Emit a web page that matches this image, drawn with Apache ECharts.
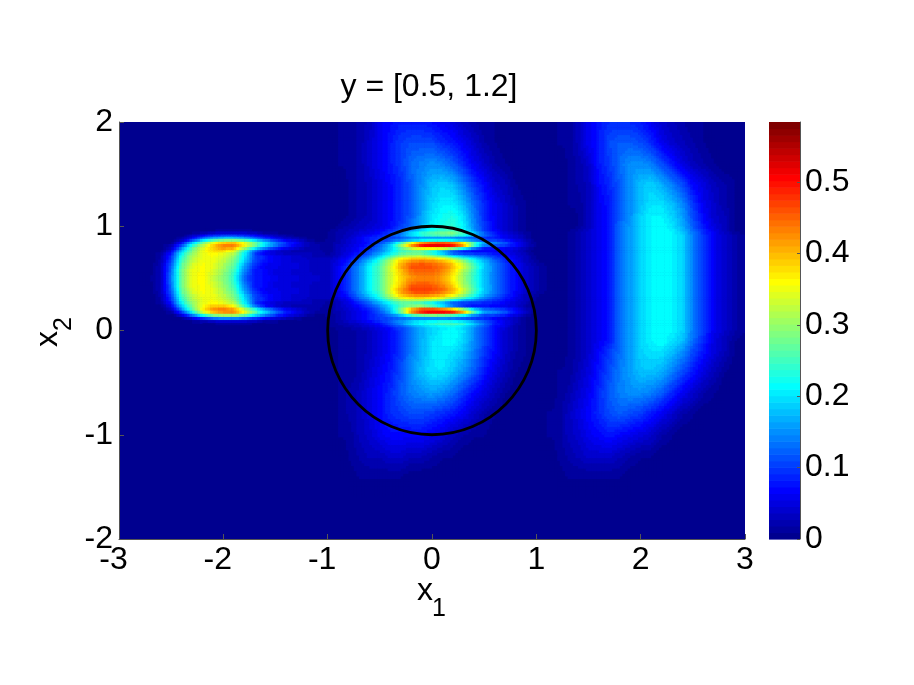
<!DOCTYPE html>
<html><head><meta charset="utf-8">
<style>html,body{margin:0;padding:0;background:#fff}#c{width:914px;height:685px}</style>
<script src="https://cdn.jsdelivr.net/npm/echarts@6/dist/echarts.min.js"></script>
</head><body><div id="c"></div>
<script>
// x2 positions of the rows below, top to bottom
const yNodes=[2,1.8,1.6,1.4,1.2,1.1,1,.95,.92,.88,.85,.83,.8,.77,.75,.72,.68,.62,.56,.5,.44,.38,.32,.28,.25,.22,.19,.16,.13,.1,.07,.03,0,-.1,-.2,-.4,-.6,-.8,-1,-1.2,-1.4,-1.6,-1.8,-2];
// x1 positions of the columns: -3 to 3 by 0.1
const xNodes=[-3,-2.9,-2.8,-2.7,-2.6,-2.5,-2.4,-2.3,-2.2,-2.1,-2,-1.9,-1.8,-1.7,-1.6,-1.5,-1.4,-1.3,-1.2,-1.1,-1,-.9,-.8,-.7,-.6,-.5,-.4,-.3,-.2,-.1,0,.1,.2,.3,.4,.5,.6,.7,.8,.9,1,1.1,1.2,1.3,1.4,1.5,1.6,1.7,1.8,1.9,2,2.1,2.2,2.3,2.4,2.5,2.6,2.7,2.8,2.9,3];
// values, in hundredths
const rows=[
[0,0,0,0,0,0,0,0,0,0, 0,0,0,0,0,0,0,0,0,0, 0,1,1,2,3,6,7,8,8,8, 7,6,5,3,2,1,1,0,0,0, 0,0,1,1,3,6,8,9,9,9, 8,6,4,3,2,1,1,0,0,0,0],
[0,0,0,0,0,0,0,0,0,0, 0,0,0,0,0,0,0,0,0,0, 0,1,1,2,4,6,8,10,11,11, 11,9,8,6,4,2,1,0,0,0, 0,0,1,1,3,6,8,11,12,12, 11,9,6,4,3,2,1,0,0,0,0],
[0,0,0,0,0,0,0,0,0,0, 0,0,0,0,0,0,0,0,0,0, 0,1,1,2,4,6,8,10,13,14, 15,14,12,9,6,4,2,1,0,0, 0,0,0,1,2,4,8,10,13,15, 15,14,11,8,5,3,2,1,0,0,0],
[0,0,0,0,0,0,0,0,0,0, 0,0,0,0,0,0,0,0,0,0, 0,0,1,2,3,5,7,9,12,15, 18,19,18,14,10,7,4,3,1,0, 0,0,0,1,2,3,7,9,12,15, 18,19,17,14,11,7,5,3,2,1,0],
[0,0,0,0,0,0,0,0,0,0, 0,0,0,0,0,0,0,0,0,0, 0,0,1,2,3,5,7,9,12,16, 19,21,21,18,13,9,6,4,2,1, 0,0,0,1,1,3,6,8,12,15, 18,20,20,18,15,10,6,4,2,1,0],
[0,0,0,0,0,0,0,0,0,0, 0,0,0,0,0,0,0,0,0,0, 0,0,1,2,3,5,7,9,12,16, 20,22,23,20,14,9,6,4,2,1, 0,0,0,0,1,3,6,8,12,15, 19,21,21,19,16,11,7,4,3,1,0],
[0,0,0,0,0,0,0,0,0,0, 0,0,0,0,0,0,0,0,0,0, 0,1,2,3,4,5,7,10,13,17, 21,23,24,21,15,10,6,4,2,1, 0,0,0,0,1,3,6,8,13,16, 19,21,22,20,17,12,8,5,3,1,0],
[0,0,0,0,0,0,0,0,0,1, 2,2,2,1,0,0,0,0,0,0, 1,2,3,4,5,7,9,12,16,20, 23,25,26,23,16,10,7,4,2,1, 0,0,0,1,2,4,6,8,13,16, 19,21,22,21,18,13,9,6,3,1,0],
[0,0,0,0,0,0,0,2,4,6, 7,7,6,5,3,2,1,0,0,0, 1,2,3,5,6,8,11,15,22,27, 29,31,31,27,21,14,9,6,4,2, 0,0,0,1,2,4,6,8,13,16, 19,21,22,21,19,14,10,6,4,2,1],
[0,0,0,0,0,0,2,7,14,19, 21,21,19,14,10,7,4,3,1,0, 1,2,4,6,9,10,10,11,12,12, 12,11,10,9,9,8,8,6,4,2, 0,0,0,1,2,4,6,8,13,16, 19,21,22,21,19,14,10,6,4,2,1],
[0,0,0,0,0,0,5,15,25,32, 36,37,33,26,19,13,9,6,3,1, 1,2,4,6,8,10,13,19,25,30, 33,34,32,27,20,14,13,11,7,4, 0,0,0,1,2,4,6,8,13,16, 19,21,22,21,19,14,10,6,4,2,1],
[0,0,0,0,0,2,9,21,30,38, 42,43,37,29,21,15,10,6,3,2, 1,3,4,6,8,12,18,30,45,55, 58,58,56,48,30,18,15,12,8,4, 1,0,0,1,2,4,6,8,13,16, 19,21,22,21,19,14,10,6,4,2,1],
[0,0,0,0,0,3,13,25,33,39, 44,44,35,26,18,12,8,5,3,2, 1,3,5,7,9,13,19,28,38,44, 46,46,43,34,20,10,9,8,6,3, 1,0,0,1,2,4,6,8,13,16, 19,21,22,21,19,14,10,6,4,2,1],
[0,0,0,0,0,5,17,28,35,38, 39,36,26,16,9,6,4,3,2,2, 1,3,5,7,10,14,19,24,27,28, 26,22,15,9,7,6,6,5,4,2, 0,0,0,1,2,4,6,8,13,16, 19,21,22,21,19,14,10,6,4,2,1],
[0,0,0,0,1,7,20,29,35,37, 36,33,22,10,5,3,2,2,3,3, 1,3,5,8,11,15,20,25,26,25, 20,14,8,7,7,8,7,6,4,2, 0,0,0,1,2,4,6,8,13,16, 19,21,22,21,19,14,10,6,4,2,1],
[0,0,0,0,2,9,23,31,35,36, 34,30,21,11,8,6,5,4,3,2, 2,3,6,9,13,18,23,28,30,30, 28,24,18,15,13,11,9,7,5,3, 1,0,0,1,2,4,6,8,13,16, 19,21,22,21,19,14,10,6,4,2,1],
[0,0,0,0,2,10,25,32,35,35, 33,29,20,11,8,6,5,4,4,3, 3,5,8,12,17,23,31,38,41,42, 41,39,35,28,22,17,12,9,6,3, 1,0,0,1,2,4,6,8,13,16, 19,21,22,21,19,14,10,6,4,2,1],
[0,0,0,0,3,12,27,34,36,35, 31,27,16,9,6,6,5,5,4,3, 3,6,10,15,21,26,33,41,46,47, 46,44,40,34,26,19,14,10,7,4, 2,1,0,1,2,4,6,8,13,16, 19,21,22,21,19,14,10,6,4,2,1],
[0,0,0,0,3,13,28,35,36,34, 30,25,14,8,7,5,5,4,4,3, 3,6,10,15,21,26,33,39,44,45, 45,43,38,31,25,18,14,10,7,4, 2,1,0,1,2,4,6,8,13,16, 19,21,22,21,19,14,10,6,4,2,1],
[0,0,0,1,3,14,28,35,36,33, 29,24,12,8,7,6,5,5,4,4, 3,6,10,15,21,26,33,38,42,43, 43,41,36,30,24,18,14,10,7,4, 2,1,0,1,2,4,6,8,13,16, 19,21,22,21,19,14,10,6,4,2,1],
[0,0,0,0,3,13,28,35,36,34, 30,25,14,8,7,5,5,4,4,3, 3,6,10,15,21,26,33,39,45,46, 45,43,38,31,25,18,14,10,7,4, 2,1,0,1,2,4,6,8,13,16, 19,21,22,21,19,14,10,6,4,2,1],
[0,0,0,0,3,12,27,34,36,35, 31,27,16,9,6,6,5,5,4,3, 3,6,10,15,21,26,34,42,47,48, 47,45,41,34,26,19,14,10,7,4, 2,1,0,1,2,4,6,8,13,16, 19,21,22,21,19,14,10,6,4,2,1],
[0,0,0,0,2,10,25,32,35,35, 33,29,20,11,8,6,5,4,4,3, 3,5,8,13,18,23,31,37,40,41, 40,38,34,28,22,16,12,9,6,3, 1,0,0,1,2,4,6,8,13,16, 19,21,22,21,19,14,10,6,4,2,1],
[0,0,0,0,2,9,23,31,35,36, 34,30,21,11,8,6,5,4,3,2, 2,3,6,10,14,19,24,28,29,28, 27,24,18,14,12,10,9,7,5,3, 1,0,0,1,2,4,6,8,13,16, 19,21,22,21,19,14,10,6,4,2,1],
[0,0,0,0,1,7,20,29,35,37, 36,33,22,10,5,3,2,2,3,3, 1,3,5,8,12,16,21,25,25,23, 18,12,8,7,7,8,7,6,4,2, 0,0,0,1,2,4,6,8,13,16, 19,21,22,21,19,14,10,6,4,2,1],
[0,0,0,0,0,5,17,28,36,41, 42,38,28,18,10,6,4,3,2,2, 1,3,5,7,10,14,19,26,33,36, 34,28,20,12,8,7,7,6,5,2, 0,0,0,1,2,4,6,8,13,16, 19,21,22,21,19,14,10,6,4,2,1],
[0,0,0,0,0,3,13,25,37,43, 45,44,36,28,20,14,9,6,3,2, 1,3,4,6,8,12,18,30,46,56, 58,58,56,47,30,18,15,12,8,4, 1,0,0,1,2,4,6,8,13,16, 19,21,22,21,19,14,10,6,4,2,1],
[0,0,0,0,0,0,7,18,29,36, 39,40,34,25,18,12,8,5,3,1, 1,2,4,6,8,11,16,24,36,42, 44,44,41,34,22,14,13,11,7,3, 0,0,0,1,2,4,6,8,13,16, 19,21,22,21,19,14,10,6,4,2,1],
[0,0,0,0,0,0,2,8,15,20, 22,22,19,14,10,7,4,3,1,0, 1,2,4,6,8,10,11,12,13,13, 13,12,11,10,9,8,7,5,3,1, 0,0,0,1,2,4,6,8,13,16, 19,21,22,21,19,14,10,6,4,2,1],
[0,0,0,0,0,0,0,2,4,6, 7,7,6,5,3,2,1,0,0,0, 1,2,4,6,8,10,12,14,16,18, 18,18,17,15,12,10,7,5,3,1, 0,0,0,1,2,4,6,8,13,16, 19,21,22,21,19,14,10,6,4,2,1],
[0,0,0,0,0,0,0,0,0,1, 2,2,2,1,0,0,0,0,0,0, 1,2,3,4,6,8,12,16,21,23, 25,27,27,25,20,14,9,6,3,1, 0,0,0,1,2,4,6,8,13,16, 19,21,22,21,19,14,10,6,4,2,1],
[0,0,0,0,0,0,0,0,0,0, 0,0,0,0,0,0,0,0,0,0, 1,1,2,3,4,6,8,11,14,17, 19,20,21,19,15,11,7,5,2,1, 0,0,0,1,2,4,6,8,13,16, 19,21,22,21,19,14,10,6,4,2,1],
[0,0,0,0,0,0,0,0,0,0, 0,0,0,0,0,0,0,0,0,0, 0,1,1,2,3,5,7,10,14,17, 19,21,22,20,15,11,7,4,2,1, 0,0,0,1,2,4,6,8,13,16, 19,21,22,21,19,14,10,6,4,2,1],
[0,0,0,0,0,0,0,0,0,0, 0,0,0,0,0,0,0,0,0,0, 0,1,1,2,3,5,7,10,14,17, 20,21,22,19,15,11,7,4,2,1, 0,0,0,1,2,4,6,8,13,16, 19,21,22,20,18,13,9,5,3,1,0],
[0,0,0,0,0,0,0,0,0,0, 0,0,0,0,0,0,0,0,0,0, 0,1,1,2,3,5,7,10,14,17, 20,21,20,18,14,10,7,4,2,1, 0,0,0,1,2,4,7,10,13,16, 19,20,20,18,15,11,8,5,3,1,0],
[0,0,0,0,0,0,0,0,0,0, 0,0,0,0,0,0,0,0,0,0, 0,1,1,2,4,6,8,11,15,18, 20,20,18,15,12,8,5,3,1,0, 0,0,1,1,3,5,8,11,14,16, 18,18,17,14,11,8,5,3,1,0,0],
[0,0,0,0,0,0,0,0,0,0, 0,0,0,0,0,0,0,0,0,0, 0,1,2,3,5,7,9,12,14,15, 16,15,13,10,7,5,3,1,0,0, 0,0,1,2,4,6,9,12,14,15, 15,14,12,9,6,4,2,1,0,0,0],
[0,0,0,0,0,0,0,0,0,0, 0,0,0,0,0,0,0,0,0,0, 0,1,2,3,5,7,9,10,11,11, 10,9,8,6,4,2,1,0,0,0, 0,1,1,3,5,7,9,11,12,11, 10,8,6,4,2,1,0,0,0,0,0],
[0,0,0,0,0,0,0,0,0,0, 0,0,0,0,0,0,0,0,0,0, 0,1,1,3,4,6,7,7,7,7, 6,5,3,2,1,1,0,0,0,0, 0,1,1,3,4,6,7,8,7,6, 5,4,2,1,0,0,0,0,0,0,0],
[0,0,0,0,0,0,0,0,0,0, 0,0,0,0,0,0,0,0,0,0, 0,0,1,2,3,3,4,4,3,3, 2,1,1,0,0,0,0,0,0,0, 0,0,1,2,3,4,4,4,3,2, 1,1,0,0,0,0,0,0,0,0,0],
[0,0,0,0,0,0,0,0,0,0, 0,0,0,0,0,0,0,0,0,0, 0,0,0,1,1,1,1,1,0,0, 0,0,0,0,0,0,0,0,0,0, 0,0,0,1,1,1,1,1,1,0, 0,0,0,0,0,0,0,0,0,0,0],
[0,0,0,0,0,0,0,0,0,0, 0,0,0,0,0,0,0,0,0,0, 0,0,0,0,0,0,0,0,0,0, 0,0,0,0,0,0,0,0,0,0, 0,0,0,0,0,0,0,0,0,0, 0,0,0,0,0,0,0,0,0,0,0],
[0,0,0,0,0,0,0,0,0,0, 0,0,0,0,0,0,0,0,0,0, 0,0,0,0,0,0,0,0,0,0, 0,0,0,0,0,0,0,0,0,0, 0,0,0,0,0,0,0,0,0,0, 0,0,0,0,0,0,0,0,0,0,0],
[0,0,0,0,0,0,0,0,0,0, 0,0,0,0,0,0,0,0,0,0, 0,0,0,0,0,0,0,0,0,0, 0,0,0,0,0,0,0,0,0,0, 0,0,0,0,0,0,0,0,0,0, 0,0,0,0,0,0,0,0,0,0,0]
];
const xTicks=[-3,-2,-1,0,1,2,3];
const yTicks=[-2,-1,0,1,2];
const barTicks=[0,.1,.2,.3,.4,.5];
const barMax=0.584;
const titleText='y = [0.5, 1.2]';
const unitCircle=[[0,0,1]];

const FS=32, FONT='"Liberation Sans",Arial,sans-serif';
function jet(v){ // MATLAB jet with 64 levels
  const k=Math.min(63,Math.max(0,Math.floor(v/barMax*64)));
  const t=(k+1)/64;
  const ch=c=>Math.round(255*Math.max(0,Math.min(1,1.5-Math.abs(4*t-c))));
  return 'rgb('+ch(3)+','+ch(2)+','+ch(1)+')';
}
// shaded cells (like MATLAB "shading interp"): each cell between four read values
const cells=[];
for(let j=0;j<yNodes.length-1;j++)for(let i=0;i<xNodes.length-1;i++){
  const m=Math.max(rows[j][i],rows[j][i+1],rows[j+1][i],rows[j+1][i+1]);
  if(m>0)cells.push([i,j]);
}
function renderCell(params,api){
  const i=api.value(0),j=api.value(1);
  const a=api.coord([xNodes[i],yNodes[j]]),b=api.coord([xNodes[i+1],yNodes[j+1]]);
  const w=b[0]-a[0],h=b[1]-a[1];
  const nx=4,ny=Math.max(1,Math.round(h/2.6));
  const v00=rows[j][i]/100,v10=rows[j][i+1]/100,v01=rows[j+1][i]/100,v11=rows[j+1][i+1]/100;
  const ch=[];
  for(let q=0;q<ny;q++)for(let p=0;p<nx;p++){
    const s=(p+.5)/nx,t=(q+.5)/ny;
    const v=(v00*(1-s)+v10*s)*(1-t)+(v01*(1-s)+v11*s)*t;
    ch.push({type:'rect',shape:{x:a[0]+p*w/nx,y:a[1]+q*h/ny,width:w/nx+.6,height:h/ny+.6},style:{fill:jet(v)},silent:true});
  }
  return {type:'group',children:ch};
}
const barLevels=[];
for(let k=0;k<64;k++)barLevels.push(k);
function renderBar(params,api){
  const k=api.value(0);
  const a=api.coord([0,(k+1)/64*barMax]),b=api.coord([1,k/64*barMax]);
  return {type:'rect',shape:{x:a[0],y:a[1],width:b[0]-a[0],height:b[1]-a[1]+.6},style:{fill:jet((k+.5)/64*barMax)}};
}
function renderCircle(params,api){
  const c=api.coord([api.value(0),api.value(1)]);
  const e=api.coord([api.value(0)+api.value(2),api.value(1)+api.value(2)]);
  return {type:'ellipse',shape:{cx:c[0],cy:c[1],rx:e[0]-c[0],ry:c[1]-e[1]},style:{fill:null,stroke:'#000',lineWidth:2.8}};
}
const axisText={color:'#000',fontSize:FS,fontFamily:FONT};
const line={show:true,onZero:false,lineStyle:{color:'#555',width:1}};
const option={
  animation:false,backgroundColor:'#fff',
  title:{text:titleText,left:424,top:66,textAlign:'center',textStyle:{color:'#000',fontSize:FS,fontWeight:'normal',fontFamily:FONT}},
  grid:[
    {left:119,top:122,width:626,height:417,backgroundColor:'#00008f',show:true,borderWidth:0},
    {left:769,top:122,width:31,height:417,show:false}
  ],
  xAxis:[
    {gridIndex:0,type:'value',min:-3,max:3,interval:1,z:10,axisLine:line,axisTick:{inside:true,length:5,lineStyle:{color:'#555'}},splitLine:{show:false},
     axisLabel:Object.assign({margin:5,showMinLabel:true,showMaxLabel:true,hideOverlap:false,customValues:xTicks,
       formatter:v=>v<0?'{n|'+v+'}':String(v),rich:{n:{fontSize:FS,fontFamily:FONT,color:'#000',padding:[0,11,0,0]}}},axisText)},
    {gridIndex:1,type:'value',min:0,max:1,show:false}
  ],
  yAxis:[
    {gridIndex:0,type:'value',min:-2,max:2,interval:1,z:10,axisLine:line,axisTick:{inside:true,length:5,lineStyle:{color:'#555'}},splitLine:{show:false},
     axisLabel:Object.assign({margin:6,customValues:yTicks},axisText)},
    {gridIndex:1,type:'value',min:0,max:barMax,position:'right',z:10,axisLine:line,splitLine:{show:false},
     axisTick:{inside:true,length:3,lineStyle:{color:'#555'},customValues:barTicks},
     axisLabel:Object.assign({margin:5,customValues:barTicks,formatter:v=>String(v)},axisText)}
  ],
  series:[
    {type:'custom',name:'density',xAxisIndex:0,yAxisIndex:0,coordinateSystem:'cartesian2d',clip:true,silent:true,progressive:0,data:cells,renderItem:renderCell,encode:{x:0,y:1}},
    {type:'custom',name:'unit circle',xAxisIndex:0,yAxisIndex:0,coordinateSystem:'cartesian2d',silent:true,z:5,data:unitCircle,renderItem:renderCircle,encode:{x:0,y:1}},
    {type:'custom',name:'colorbar',xAxisIndex:1,yAxisIndex:1,coordinateSystem:'cartesian2d',silent:true,data:barLevels.map(k=>[k]),renderItem:renderBar,encode:{y:0}}
  ],
  graphic:[
    {type:'text',left:417,top:575,style:{text:'x',fontSize:FS,fontFamily:FONT,fill:'#000'}},
    {type:'text',left:432,top:597,style:{text:'1',fontSize:25,fontFamily:FONT,fill:'#000'}},
    {type:'text',x:32,y:347,rotation:Math.PI/2,style:{text:'x',fontSize:FS,fontFamily:FONT,fill:'#000'}},
    {type:'text',x:52,y:331,rotation:Math.PI/2,style:{text:'2',fontSize:25,fontFamily:FONT,fill:'#000'}}
  ]
};
echarts.init(document.getElementById('c'),null,{renderer:'canvas'}).setOption(option);
</script></body></html>
